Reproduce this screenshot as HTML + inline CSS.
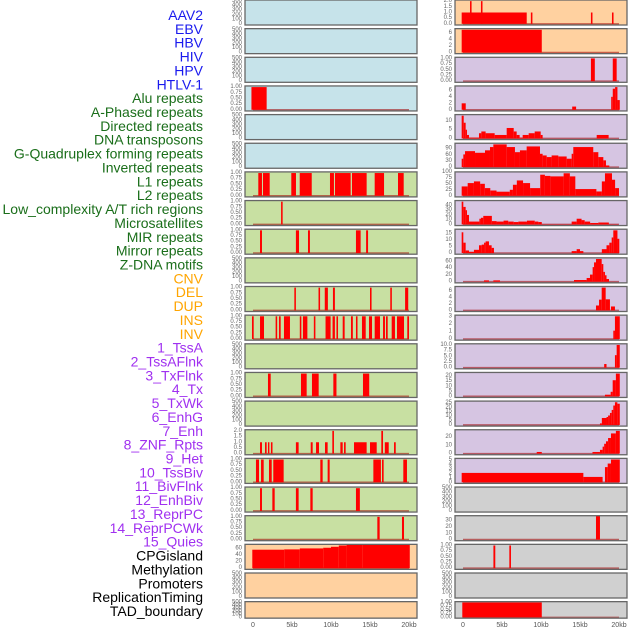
<!DOCTYPE html>
<html><head><meta charset="utf-8">
<style>
html,body{margin:0;padding:0;background:#fff;}
svg{display:block;font-family:"Liberation Sans",sans-serif;}
</style></head>
<body>
<svg id="chart" width="630" height="630" viewBox="0 0 630 630"></svg>
<script>
// ---------- labels ----------
const trackLabels = ["AAV2","EBV","HBV","HIV","HPV","HTLV-1","Alu repeats","A-Phased repeats","Directed repeats","DNA transposons","G-Quadruplex forming repeats","Inverted repeats","L1 repeats","L2 repeats","Low_complexity A/T rich regions","Microsatellites","MIR repeats","Mirror repeats","Z-DNA motifs","CNV","DEL","DUP","INS","INV","1_TssA","2_TssAFlnk","3_TxFlnk","4_Tx","5_TxWk","6_EnhG","7_Enh","8_ZNF_Rpts","9_Het","10_TssBiv","11_BivFlnk","12_EnhBiv","13_ReprPC","14_ReprPCWk","15_Quies","CPGisland","Methylation","Promoters","ReplicationTiming","TAD_boundary"];
const labelGroups = ["v","v","v","v","v","v","r","r","r","r","r","r","r","r","r","r","r","r","r","s","s","s","s","s","c","c","c","c","c","c","c","c","c","c","c","c","c","c","c","o","o","o","o","o"];
const xTicks = [0,5,10,15,20];
const xTickLabels = ["0","5kb","10kb","15kb","20kb"];

// ---------- left column segments [startKb, endKb, value] ----------
const L1=[],L2=[],L3=[],L5=[],L6=[],L10=[],L13=[],L15=[],L21=[],L22=[];
const L4=[[-0.2,1.75,1]];
const L7=[[0.68,1.15,1],[1.28,2.14,1],[4.91,5.51,1],[5.99,7.53,1],[9.87,10.38,1],[10.51,12.52,1],[12.69,14.57,1],[15.6,16.8,1],[18.59,19.32,1]];
const L8=[[3.6,3.8,1]];
const L9=[[0.9,1.15,1],[5.5,5.9,1],[7.05,7.3,1],[13.2,13.8,1],[14.5,14.75,1]];
const L11=[[5.3,5.5,1],[8.4,8.6,1],[9.2,9.6,1],[10.25,10.5,1],[15,15.2,1],[17.6,17.8,1],[19.5,19.9,1]];
const L12=[[-0.13,0.09,1],[0.9,1.41,1],[2.9,3.1,1],[3.33,3.55,1],[3.97,4.74,1],[6.0,6.2,1],[6.4,6.97,1],[7.8,8.0,1],[9.3,9.95,1],[10.2,10.5,1],[10.7,10.9,1],[11.5,11.75,1],[12.56,12.8,1],[13.2,13.4,1],[13.97,14.45,1],[14.87,15.26,1],[15.6,16.28,1],[16.67,16.92,1],[17.05,17.27,1],[17.78,18.2,1],[18.46,19.36,1],[19.78,20.0,1]];
const L14=[[1.92,2.27,1],[6.15,6.88,1],[7.56,8.42,1],[10.3,10.7,1],[14.1,14.9,1]];
const L16=[[0.9,1.15,1],[1.54,1.75,1],[1.92,2.1,1],[2.3,2.5,1],[5.5,5.85,1],[7.4,7.65,1],[8.08,8.46,1],[9.23,9.57,1],[10.17,10.38,2],[11.2,11.5,1],[11.67,11.88,1],[12.95,14.57,1],[15,15.86,1],[16.45,16.67,2],[16.9,17.4,1],[18.08,18.3,1]];
const L17=[[0.38,0.77,1],[1.03,1.37,1],[2.05,2.4,1],[2.6,3.93,1],[8.63,8.93,1],[9.57,9.83,1],[15.43,16.4,1],[16.54,16.75,1],[19.27,19.74,1]];
const L18=[[0.9,1.15,1],[2.48,2.78,1],[5.5,5.85,1],[7.35,7.65,1],[13.2,13.7,1]];
const L19=[[15.94,16.24,1],[19.1,19.36,1]];
const L20=[[-0.09,4,57],[4,6,58],[6,9,61],[9,10,63],[10,11,66],[11,12,70],[12,14,74],[14,15,72],[15,20.1,74]];

// ---------- right column segments ----------
const R1=[[-0.17,8.17,1],[0.9,1.1,2],[2.3,2.5,2],[8.7,8.9,1],[16.4,16.6,1],[19.1,19.3,1]];
const R2=[[-0.17,10.1,7]];
const R3=[[16.4,16.9,1],[19.2,19.7,1]];
const R4=[[-0.17,0.35,2],[14,14.5,1],[19,19.2,4],[19.2,19.5,6.5],[19.5,19.8,7],[19.8,20.1,3]];
const R5=[[-0.17,0.09,13],[0.09,0.34,9],[0.34,0.51,5],[0.51,0.77,2],[0.77,2.05,0.5],[2.05,2.35,3],[2.35,2.9,4],[2.9,4.06,3],[4.06,5.6,2],[5.6,6.5,6],[6.5,6.88,4],[6.88,7.26,2],[7.26,7.65,0.5],[7.65,8.42,2],[8.42,9.19,3],[9.19,9.96,4],[9.96,10.21,2],[17.14,18.67,2]];
const R6=[[-0.17,0.04,41],[0.04,0.26,62],[0.26,1.54,78],[1.54,2.82,70],[2.82,3.46,82],[3.46,3.89,98],[3.89,5.6,111],[5.6,6.66,98],[6.66,7.3,73],[7.3,8.16,82],[8.16,9.87,101],[9.87,10.21,65],[10.21,10.73,57],[10.73,11.36,49],[11.36,12.22,57],[12.22,13.29,52],[13.29,13.93,41],[13.93,14.14,65],[14.14,16.7,98],[16.7,17.35,73],[17.35,17.99,49],[17.99,18.33,33],[18.33,18.76,8]];
const R7=[[-0.17,0.6,39],[0.6,1.4,53],[1.4,2.2,60],[2.2,2.8,50],[2.8,3.5,32],[3.5,4.3,22],[4.3,6.0,17],[6.0,6.4,25],[6.4,6.9,46],[6.9,7.7,64],[7.7,8.6,53],[8.6,9.9,32],[9.9,10.5,88],[10.5,11.2,83],[11.2,12.9,81],[12.9,13.7,94],[13.7,14.4,81],[14.4,17.1,28],[17.1,17.8,18],[17.8,18.2,60],[18.2,19.1,94],[19.1,19.5,67],[19.5,20.0,32]];
const R8=[[-0.17,0.04,48],[0.04,0.34,37],[0.34,0.51,30],[0.51,0.77,20],[0.77,2.1,6],[2.1,2.3,12],[2.3,2.6,14],[2.6,3.7,18],[3.7,4.3,7],[4.3,5.2,6],[5.2,5.8,8],[5.8,6.5,6],[6.5,7.1,5],[7.1,8.2,6],[8.2,9.2,8],[9.2,9.66,6],[9.66,10.1,5],[10.1,13.93,0.5],[13.93,14.57,6],[14.57,15.2,12],[15.2,15.6,9],[15.6,16.3,6],[16.3,17.35,3],[17.35,18.7,4],[18.7,19.9,0.5]];
const R9=[[-0.17,0.04,16],[0.04,0.34,8],[0.34,0.77,2],[0.77,1.4,1],[1.4,2.05,2.5],[2.05,2.4,6],[2.4,2.7,6.5],[2.7,2.9,8],[2.9,3.33,9],[3.33,3.67,6],[3.67,3.97,4],[13.93,14.57,1.5],[14.57,15.0,3],[15.0,15.43,1.5],[17.8,18.4,3],[18.4,18.76,6],[18.76,19.06,8],[19.06,19.27,12],[19.27,19.8,17.5],[19.8,20.04,11]];
const R10=[[2.69,3.33,4],[3.89,4.74,4],[14.23,15.85,5],[15.85,16.28,11],[16.28,16.62,21],[16.62,16.8,43],[16.8,17.05,57],[17.05,17.78,67],[17.78,17.99,52],[17.99,18.2,29],[18.2,18.4,19],[18.4,18.72,8]];
const R11=[[17.05,17.44,1.5],[17.44,17.78,3.3],[17.78,18.29,7],[18.29,18.84,3.4],[18.97,19.48,1.2]];
const R12=[[19.27,19.48,1.1],[19.48,20.1,3]];
const R13=[[18.1,18.4,1.6],[19.48,19.7,5.5],[19.7,20.1,10]];
const R14=[[18.2,18.93,1.6],[18.93,19.19,4.5],[19.19,19.6,16],[19.6,20.1,22.6]];
const R15=[[17.56,17.8,1.8],[17.8,18.4,7.9],[18.4,18.6,9],[18.6,18.84,10.7],[18.84,19.06,13.6],[19.06,19.27,17],[19.27,19.48,22],[19.48,19.79,25.7],[19.79,20.1,24]];
const R16=[[9.45,10.1,2],[16.6,17.56,2],[17.56,17.9,4.6],[17.9,18.1,8.5],[18.1,18.33,12],[18.33,18.6,15],[18.6,18.97,19],[18.97,19.6,24.6],[19.6,20.1,27.7]];
const R17=[[-0.17,15.43,2.1],[15.43,17.9,1.2],[18.2,18.55,3.4],[18.55,18.97,4.2],[18.97,20.1,5.1]];
const R18=[],R21=[];
const R19=[[17.05,17.56,40]];
const R20=[[3.9,4.14,1],[5.94,6.15,1]];
const R22=[[-0.09,10.1,1]];

// ---------- y tick label sets ----------
const T500=["0","100","200","300","400","500"], T1=["0.00","0.25","0.50","0.75","1.00"];
const leftTicks=[T500,T500,T500,T1,T500,T500,T1,T1,T1,T500,T1,T1,T500,T1,T500,["0.0","0.5","1.0","1.5","2.0"],T1,T1,T1,["0","20","40","60"],T500,T500];
const rightTicks=[["0.0","0.5","1.0","1.5","2.0"],["0","2","4","6"],T1,["0","2","4","6"],["0","5","10"],["0","30","60","90"],["0","25","50","75","100"],["0","10","20","30","40"],["0","5","10","15"],["0","20","40","60"],["0","2","4","6"],["0","1","2","3"],["0.0","2.5","5.0","7.5","10.0"],["0","5","10","15","20"],["0","5","10","15","20","25"],["0","10","20"],["0","1","2","3","4","5"],T500,["0","10","20","30"],T1,T500,T1];
const leftMax=[500,500,500,1,500,500,1,1,1,500,1,1,500,1,500,2,1,1,1,70,500,500];
const rightMax=[2,7,1,7,13,111,95,48,17.5,67,7,3,10,22.6,25.7,27.7,5.1,500,36,1,500,1];
const leftSeries=[L1,L2,L3,L4,L5,L6,L7,L8,L9,L10,L11,L12,L13,L14,L15,L16,L17,L18,L19,L20,L21,L22];
const rightSeries=[R1,R2,R3,R4,R5,R6,R7,R8,R9,R10,R11,R12,R13,R14,R15,R16,R17,R18,R19,R20,R21,R22];

const BLUE="#c6e3ea",GREEN="#c8e0a2",ORANGE="#ffd1a0",PURPLE="#d6c5e2",GRAY="#d0d0d0";
const NS="http://www.w3.org/2000/svg";
const svg=document.getElementById("chart");
function mk(tag,attrs,parent){const e=document.createElementNS(NS,tag);for(const k in attrs)e.setAttribute(k,attrs[k]);(parent||svg).appendChild(e);return e;}

const groupColor={v:"#1a1aee",r:"#1a6e1a",s:"#ffa500",c:"#a030f0",o:"#000000"};
trackLabels.forEach((t,i)=>{
  const e=mk("text",{x:203,y:15+i*13.86,"text-anchor":"end","dominant-baseline":"central","font-size":"14",fill:groupColor[labelGroups[i]]});
  
  
  e.textContent=t;
});

function rowTop(i){return i*28.65;}
function rowH(i){return i===21?16.5:25;}
function xScale(col,kb){return (col===0?253:463)+kb*7.8;}

function drawPanel(col,i,bg,segs,maxV,ticks){
  const x0=col===0?245:455, w=172, t=rowTop(i), h=rowH(i);
  const g=mk("g",{});
  
  
  const clipId="c"+col+"_"+i;
  const cp=mk("clipPath",{id:clipId},g);
  mk("rect",{x:x0,y:t,width:w,height:h},cp);
  mk("rect",{x:x0,y:t,width:w,height:h,fill:bg},g);
  const ys=v=>t+h-(v+0.05*maxV)/(1.1*maxV)*h;
  const bars=mk("g",{"clip-path":"url(#"+clipId+")"},g);
  if(segs.length){
    const bl=mk("line",{x1:xScale(col,0),x2:xScale(col,20),y1:ys(0),y2:ys(0),stroke:"rgba(160,0,0,0.55)","stroke-width":1.6},bars);
    
    
  }
  segs.forEach(s=>{
    const xa=xScale(col,s[0]),xb=xScale(col,s[1]);
    const r=mk("rect",{x:xa,y:ys(s[2]),width:Math.max(xb-xa,0.8),height:ys(0)-ys(s[2]),fill:"#ff0000"},bars);
    
    
  });
  mk("rect",{x:x0,y:t,width:w,height:h,fill:"none",stroke:"#666","stroke-width":1.3},g);
  ticks.forEach(tl=>{
    const v=parseFloat(tl);
    const e=mk("text",{x:x0-3,y:ys(v),"text-anchor":"end","dominant-baseline":"central","font-size":"6",fill:"#666"},g);
    
    
    e.textContent=tl;
  });
}
for(let i=0;i<22;i++){
  const lb=i<6?BLUE:(i<19?GREEN:ORANGE);
  drawPanel(0,i,lb,leftSeries[i],leftMax[i],leftTicks[i]);
  const rb=i<2?ORANGE:(i<17?PURPLE:GRAY);
  drawPanel(1,i,rb,rightSeries[i],rightMax[i],rightTicks[i]);
}
[0,1].forEach(col=>{
  xTicks.forEach((k,j)=>{
    const e=mk("text",{x:xScale(col,k),y:627,"text-anchor":"middle","font-size":"7",fill:"#555"});
    
    
    e.textContent=xTickLabels[j];
  });
});
</script>
</body></html>
